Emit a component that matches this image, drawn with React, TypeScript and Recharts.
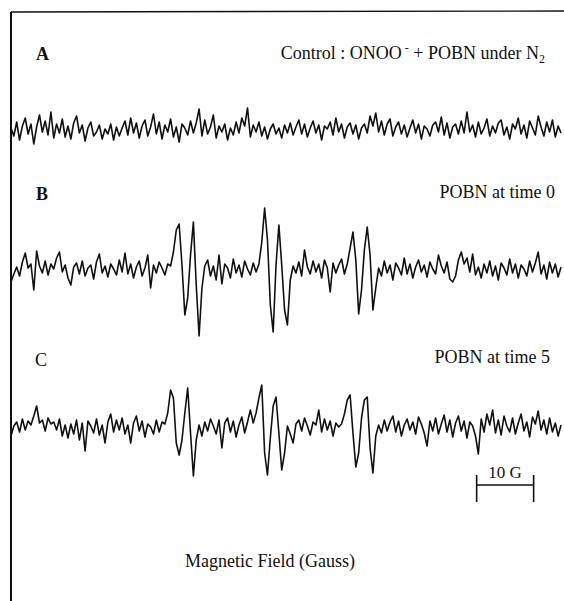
import { LineChart, Line, XAxis, YAxis, ReferenceLine } from "recharts";

// field axis: one sample every 0.5 G
const FIELD_STEP = 0.5;

// trace A: control, ONOO- + POBN under N2 (signal, arbitrary units)
const traceA = [
  2, -6, 8, -10, 4, 12, -4, 6, -14, 3, 15, -2, 9, -5, 18, -8, 6, -3, 11, -7,
  4, -9, 7, 14, -3, 5, -11, 2, 8, -6, -2, 5, -9, 1, -4, 6, -10, 3, -6, 2,
  9, -5, 12, -3, 7, -8, 4, 10, -6, 3, 16, -4, 8, -9, 5, -2, 11, -7, 3, -12,
  6, 2, -5, 9, -3, 7, 21, -6, 10, -4, 3, 15, -8, 4, -2, 6, -10, 2, -5, 8,
  -3, 12, 4, 22, -7, 5, -2, 8, -6, 3, -9, 1, 6, -4, 2, -8, 5, -3, 7, -5,
  3, 10, -4, 6, -7, 2, 9, -3, 5, -10, 4, 1, 8, -5, 12, -2, 6, -8, 3, 7,
  -4, 5, -9, 2, 6, -3, 14, 4, 17, -2, 9, -5, 6, 11, -6, 3, 8, -4, 5, -7,
  2, 10, -3, 6, -9, 4, 1, -6, 5, 8, -2, 13, -5, 7, -8, 3, 6, -4, 9, -3,
  18, -2, 5, -7, 8, -4, 2, 11, -6, 4, -3, 7, 10, -5, 3, -9, 6, 1, 12, -4,
  5, -8, 9, 2, -5, 14, 3, -6, 8, -2, 10, -7, 4, -3,
];

// trace B: POBN at time 0
const traceB = [
  -12, -4, 3, -6, 8, 17, 2, 6, -20, 19, 4, -3, 9, -5, 6, 1, 12, 18, -2, 5,
  -8, -15, 3, 7, -4, 9, -6, 2, 5, -9, 8, 16, -3, 4, -7, 6, 1, -5, 10, -2,
  17, -4, 6, -8, 3, 9, -6, 2, 15, -18, 5, -3, 8, 2, -5, 6,
  4, 18, 40, 46, 5, -45, -28, 15, 48, -15, -66, -18, 4,
  10, -6, 4, -10, 15, -14, 6, 2, -8, 11, -3, 5, -7, 9, 1, -5, 7, -2,
  6, 28, 62, 30, -35, -62, 5, 45, 5, -40, -55, -10, 4,
  -3, 8, -6, 20, 3, -4, 9, -2, 6, -8, 10, 2, -22, 7, -3, 5, 11, -4,
  6, 22, 38, 10, -44, -20, 20, 43, 15, -40, -18, 2,
  -6, 9, -3, 5, -10, 7, 2, -5, 12, -4, 6, -8, 3, 10, -2, 5, -7, 8, 1, -4,
  15, 4, -3, 8, -9, -12, -6, 10, 18, 6, 12, -2, 16, -5, 3, -8, 6, -3, 9, -6,
  4, -10, 7, 2, -5, 11, -3, 6, -8, 5, 1, -6, 9, -2, 7, 18, -4, 5, -9, 8,
  -3, 6, -7, 3,
];

// trace C: POBN at time 5
const traceC = [
  -8, 2, 6, -4, 9, -2, 7, 3, 12, 22, 5, 8, -3, 10, 4, 6, -2, 9, -8, 3,
  -10, 4, -6, 8, -12, 5, -23, 7, 2, -5, 9, -7, 3, -15, 6, 14, -4, 8, -2, 10,
  -6, 3, -15, 5, 12, -3, 7, -9, 4, 1, -6, 8, -4, 6,
  4, 15, 38, 30, -15, -27, -12, 15, 40, -5, -48, -12, 3,
  -8, 6, -3, 9, 2, -6, 8, -20, 5, 10, -4, 7, -9, 3, 11, -5, 6, 18,
  5, 15, 30, 43, -25, -47, -10, 22, 31, -5, -42, -25, 2,
  -6, -15, 4, 8, -3, 10, 2, -7, 6, 3, 18, -4, 9, -2, 7, -8, 5, 1,
  4, 14, 28, 33, -5, -39, -25, 10, 28, 31, -20, -45, -8, 3,
  -5, 8, -3, 6, 12, -4, 7, -8, 3, 9, -2, 6, -6, 11, 4, -5, -18, 7, -3, 10,
  -6, 4, 13, -4, 8, -9, 5, 12, -3, 7, -10, 6, 2, -8, -26, 9, -4, 14, 3, 18,
  -5, 8, -7, 12, 2, -4, 10, -6, 5, 14, -3, 6, -9, 11, 4, 17, -2, 8, -6, 10,
  -4, 5, -8, 3,
];

const panelLetters = ["A", "B", "C"];
const panelTitles = ["POBN at time 0", "POBN at time 5"];
const scaleBarGauss = 10;
const scaleBarStart = 81.7;

const data = traceA.map((a, i) => ({
  f: i * FIELD_STEP,
  a,
  b: traceB[i],
  c: traceC[i],
}));

const W = 564;
const H = 601;
const ink = "#111";
const font = "'Liberation Serif', 'Times New Roman', serif";

// each trace gets its own hidden y axis, so the three spectra stack
const band = (base: number) => [base - H, base];

const App = () => {
  const fMax = (traceA.length - 1) * FIELD_STEP;
  return (
    <div
      style={{
        position: "absolute",
        left: 0,
        top: 0,
        width: W,
        height: H,
        background: "#fff",
      }}
    >
      <LineChart
        width={W}
        height={H}
        data={data}
        margin={{ top: 0, right: 3, left: 11, bottom: 0 }}
      >
        <XAxis dataKey="f" type="number" domain={[0, fMax]} hide />
        <YAxis yAxisId="a" type="number" domain={band(130)} allowDataOverflow hide />
        <YAxis yAxisId="b" type="number" domain={band(270)} allowDataOverflow hide />
        <YAxis yAxisId="c" type="number" domain={band(428)} allowDataOverflow hide />
        <Line yAxisId="a" dataKey="a" type="linear" dot={false} stroke={ink} strokeWidth={1.6} strokeLinejoin="round" isAnimationActive={false} />
        <Line yAxisId="b" dataKey="b" type="linear" dot={false} stroke={ink} strokeWidth={1.6} strokeLinejoin="round" isAnimationActive={false} />
        <Line yAxisId="c" dataKey="c" type="linear" dot={false} stroke={ink} strokeWidth={1.6} strokeLinejoin="round" isAnimationActive={false} />
        {/* 10 G scale bar */}
        <ReferenceLine
          yAxisId="c"
          segment={[
            { x: scaleBarStart, y: -57 },
            { x: scaleBarStart + scaleBarGauss, y: -57 },
          ]}
          stroke={ink}
          strokeWidth={1.6}
        />
        <ReferenceLine
          yAxisId="c"
          segment={[
            { x: scaleBarStart, y: -47 },
            { x: scaleBarStart, y: -74 },
          ]}
          stroke={ink}
          strokeWidth={1.6}
        />
        <ReferenceLine
          yAxisId="c"
          segment={[
            { x: scaleBarStart + scaleBarGauss, y: -47 },
            { x: scaleBarStart + scaleBarGauss, y: -74 },
          ]}
          stroke={ink}
          strokeWidth={1.6}
        />
      </LineChart>
      <svg
        width={W}
        height={H}
        style={{ position: "absolute", left: 0, top: 0, pointerEvents: "none" }}
        fontFamily={font}
        fontSize={18}
        fill={ink}
      >
        <line x1={11} y1={12} x2={W} y2={11} stroke={ink} strokeWidth={1.4} />
        <line x1={11} y1={12} x2={11} y2={H} stroke={ink} strokeWidth={2} />
        <text x={36} y={60} fontWeight="bold">{panelLetters[0]}</text>
        <text x={36} y={200} fontWeight="bold">{panelLetters[1]}</text>
        <text x={35} y={366}>{panelLetters[2]}</text>
        <text x={545} y={59} textAnchor="end">
          Control : ONOO
          <tspan fontSize={12} dy={-7}> -</tspan>
          <tspan dy={7}> + POBN under N</tspan>
          <tspan fontSize={12} dy={4}>2</tspan>
        </text>
        <text x={555} y={198} textAnchor="end">{panelTitles[0]}</text>
        <text x={550} y={363} textAnchor="end">{panelTitles[1]}</text>
        <text x={505} y={478} textAnchor="middle" fontSize={17}>{`${scaleBarGauss} G`}</text>
        <text x={270} y={567} textAnchor="middle">Magnetic Field (Gauss)</text>
      </svg>
    </div>
  );
};

export default App;
